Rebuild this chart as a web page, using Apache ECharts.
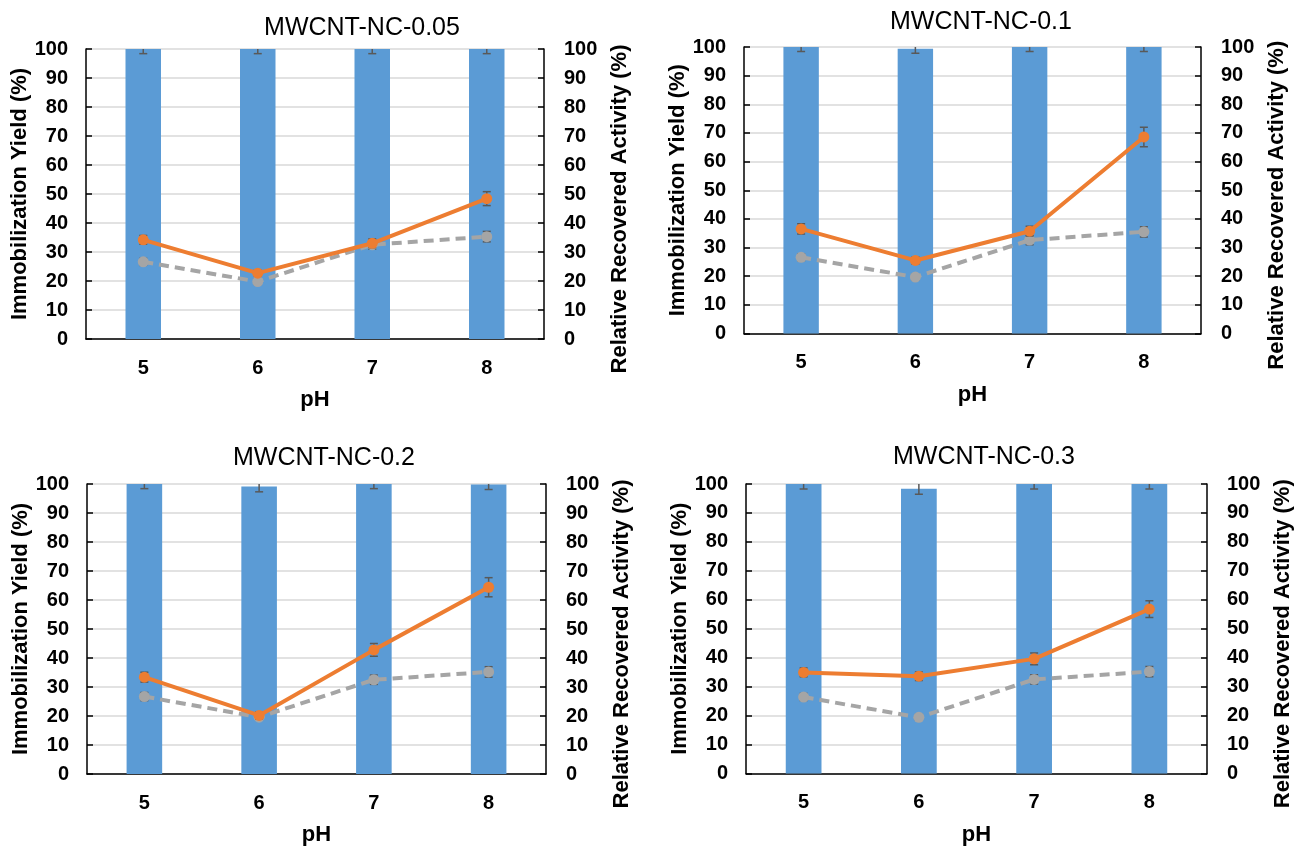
<!DOCTYPE html>
<html>
<head>
<meta charset="utf-8">
<script src="https://cdn.jsdelivr.net/npm/echarts@6/dist/echarts.min.js"></script>
<style>
html,body{margin:0;padding:0;background:#fff;}
#chart{width:1295px;height:847px;}
</style>
</head>
<body>
<div id="chart"></div>
<script>
// ---------- data ----------
const phLabels = ['5', '6', '7', '8'];
const panelTitles = ['MWCNT-NC-0.05', 'MWCNT-NC-0.1', 'MWCNT-NC-0.2', 'MWCNT-NC-0.3'];
const leftAxisTitle = 'Immobilization Yield (%)';
const rightAxisTitle = 'Relative Recovered Activity (%)';
const xAxisTitle = 'pH';

// Immobilization yield (bars, left axis)
const yield005 = [100, 100, 100, 100];
const yieldErr005 = [1.6, 1.6, 1.6, 1.6];
const yield01 = [100, 99.4, 100, 100];
const yieldErr01 = [1.6, 1.6, 1.6, 1.6];
const yield02 = [100, 99.1, 100, 99.8];
const yieldErr02 = [1.6, 1.8, 1.6, 1.7];
const yield03 = [100, 98.4, 100, 100];
const yieldErr03 = [1.7, 1.9, 1.7, 1.7];

// Relative recovered activity of immobilized enzyme (orange, right axis)
const activity005 = [34.2, 22.7, 33.0, 48.4];
const activityErr005 = [1.5, 1.0, 1.5, 2.4];
const activity01 = [36.5, 25.5, 35.7, 68.6];
const activityErr01 = [1.8, 1.2, 1.7, 3.4];
const activity02 = [33.4, 20.2, 42.8, 64.4];
const activityErr02 = [1.7, 1.2, 2.2, 3.3];
const activity03 = [34.9, 33.6, 39.6, 56.8];
const activityErr03 = [1.5, 1.5, 2.0, 2.9];

// Reference activity (grey dashed, right axis)
const ref005 = [26.6, 19.8, 32.5, 35.3];
const refErr005 = [1.2, 1.0, 1.5, 1.8];
const ref01 = [26.6, 19.7, 32.6, 35.5];
const refErr01 = [1.2, 1.0, 1.6, 1.8];
const ref02 = [26.7, 19.6, 32.5, 35.2];
const refErr02 = [1.4, 1.0, 1.6, 1.8];
const ref03 = [26.4, 19.4, 32.5, 35.2];
const refErr03 = [1.2, 1.0, 1.6, 1.8];

// ---------- layout / style ----------
const panels = [
  { title: panelTitles[0], bars: yield005, barsErr: yieldErr005, act: activity005, actErr: activityErr005, ref: ref005, refErr: refErr005,
    grid: { left: 86, top: 49, width: 458, height: 290 }, titlePos: [357, 11] },
  { title: panelTitles[1], bars: yield01, barsErr: yieldErr01, act: activity01, actErr: activityErr01, ref: ref01, refErr: refErr01,
    grid: { left: 744, top: 47, width: 457, height: 286.5 }, titlePos: [976, 5] },
  { title: panelTitles[2], bars: yield02, barsErr: yieldErr02, act: activity02, actErr: activityErr02, ref: ref02, refErr: refErr02,
    grid: { left: 87, top: 484, width: 459, height: 290 }, titlePos: [319, 441] },
  { title: panelTitles[3], bars: yield03, barsErr: yieldErr03, act: activity03, actErr: activityErr03, ref: ref03, refErr: refErr03,
    grid: { left: 746, top: 484, width: 463, height: 289.5 }, titlePos: [979, 440] }
];

const FONT = 'Liberation Sans';
const BLUE = '#5B9BD5', ORANGE = '#ED7D31', GREY = '#A5A5A5', ERR = '#595959';

function errRender(params, api) {
  const x = api.value(0);
  const lo = api.coord([x, api.value(1)]);
  const hi = api.coord([x, api.value(2)]);
  const hw = 4;
  const st = { stroke: ERR, lineWidth: 1.5 };
  return {
    type: 'group',
    children: [
      { type: 'line', shape: { x1: lo[0], y1: lo[1], x2: hi[0], y2: hi[1] }, style: st },
      { type: 'line', shape: { x1: lo[0] - hw, y1: lo[1], x2: lo[0] + hw, y2: lo[1] }, style: st },
      { type: 'line', shape: { x1: hi[0] - hw, y1: hi[1], x2: hi[0] + hw, y2: hi[1] }, style: st }
    ]
  };
}
function errData(vals, errs) {
  return vals.map((v, k) => [k, v - errs[k], v + errs[k]]);
}

const grids = [], xAxes = [], yAxes = [], series = [], titles = [];
const axisTitleStyle = { fontFamily: FONT, fontWeight: 'bold', fontSize: 22, color: '#000' };
const tickLabelStyle = { fontFamily: FONT, fontWeight: 'bold', fontSize: 20, color: '#000' };

panels.forEach((p, i) => {
  grids.push(Object.assign({ containLabel: false }, p.grid));
  titles.push({
    text: p.title, left: p.titlePos[0], top: p.titlePos[1], textAlign: 'center',
    textStyle: { fontFamily: FONT, fontWeight: 'normal', fontSize: 25, color: '#000' }
  });
  xAxes.push({
    type: 'category', gridIndex: i, data: phLabels, boundaryGap: true,
    name: xAxisTitle, nameLocation: 'middle', nameGap: 50, nameTextStyle: axisTitleStyle,
    axisLine: { show: true, lineStyle: { color: '#000', width: 1.5 } },
    axisTick: { show: false },
    axisLabel: Object.assign({ margin: 19 }, tickLabelStyle),
    splitLine: { show: false }
  });
  yAxes.push({
    type: 'value', gridIndex: i, position: 'left', min: 0, max: 100, interval: 10,
    name: leftAxisTitle, nameLocation: 'middle', nameGap: 50, nameRotate: 90, nameTextStyle: axisTitleStyle,
    axisLine: { show: true, lineStyle: { color: '#000', width: 1.5 } },
    axisTick: { show: true, inside: true, length: 6, lineStyle: { color: '#000', width: 1.5 } },
    axisLabel: Object.assign({ margin: 18 }, tickLabelStyle),
    splitLine: { show: true, lineStyle: { color: '#D9D9D9', width: 1.5 } }
  });
  yAxes.push({
    type: 'value', gridIndex: i, position: 'right', min: 0, max: 100, interval: 10,
    name: rightAxisTitle, nameLocation: 'middle', nameGap: 65, nameRotate: 90,
    nameTextStyle: Object.assign({ padding: [0, 30, 0, 0] }, axisTitleStyle),
    axisLine: { show: true, lineStyle: { color: '#000', width: 1.5 } },
    axisTick: { show: true, inside: true, length: 6, lineStyle: { color: '#000', width: 1.5 } },
    axisLabel: Object.assign({ margin: 20 }, tickLabelStyle),
    splitLine: { show: false }
  });
  const yl = 2 * i, yr = 2 * i + 1;
  series.push({
    type: 'bar', xAxisIndex: i, yAxisIndex: yl, data: p.bars, barWidth: '31%',
    itemStyle: { color: BLUE }, z: 2, silent: true
  });
  series.push({
    type: 'custom', xAxisIndex: i, yAxisIndex: yl, renderItem: errRender, clip: true,
    data: errData(p.bars, p.barsErr), z: 3, silent: true
  });
  series.push({
    type: 'custom', xAxisIndex: i, yAxisIndex: yr, renderItem: errRender, clip: true,
    data: errData(p.ref, p.refErr), z: 4, silent: true
  });
  series.push({
    type: 'line', xAxisIndex: i, yAxisIndex: yr, data: p.ref,
    lineStyle: { color: GREY, width: 4, type: [10, 6] },
    itemStyle: { color: GREY }, symbol: 'circle', symbolSize: 11, showSymbol: true, z: 5, silent: true
  });
  series.push({
    type: 'custom', xAxisIndex: i, yAxisIndex: yr, renderItem: errRender, clip: true,
    data: errData(p.act, p.actErr), z: 6, silent: true
  });
  series.push({
    type: 'line', xAxisIndex: i, yAxisIndex: yr, data: p.act,
    lineStyle: { color: ORANGE, width: 4 },
    itemStyle: { color: ORANGE }, symbol: 'circle', symbolSize: 11, showSymbol: true, z: 7, silent: true
  });
});

const chart = echarts.init(document.getElementById('chart'), null, { renderer: 'canvas' });
chart.setOption({
  animation: false,
  backgroundColor: '#fff',
  title: titles,
  grid: grids,
  xAxis: xAxes,
  yAxis: yAxes,
  series: series
});
</script>
</body>
</html>
